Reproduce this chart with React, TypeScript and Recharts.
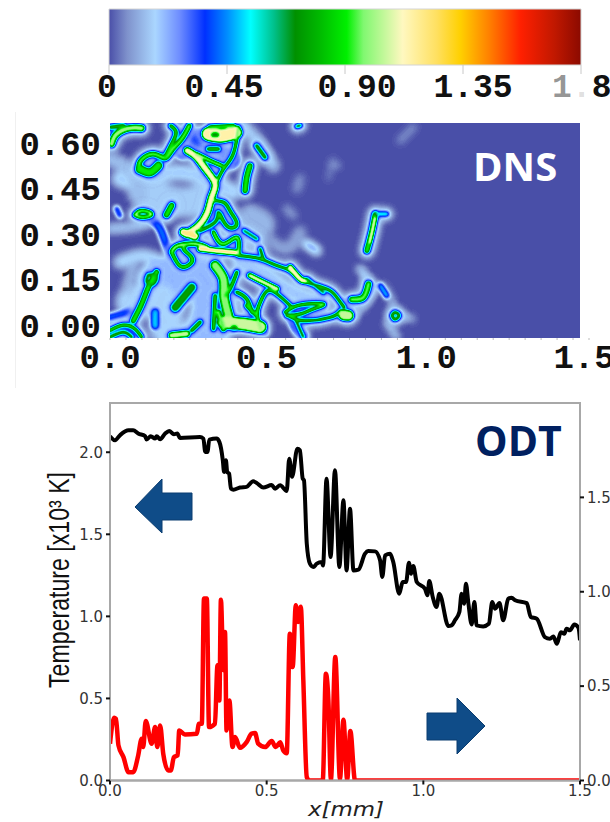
import { ComposedChart, Line, LineChart, ReferenceArea, XAxis, YAxis } from "recharts";

type Pt = [number, number];
type Strand = { pts: Pt[]; level: number; width: number };

// colour scale (value, colour) at the top
const scaleValues = [0, 0.07, 0.176, 0.27, 0.366, 0.45, 0.54, 0.63, 0.71, 0.8, 0.907, 0.97, 1.12, 1.25, 1.34, 1.45, 1.57, 1.7, 1.8];
const scaleColors = [
  "#4a4fa8", "#7f92cc", "#aad6ff", "#6d8cff", "#0030ff", "#008cff", "#00ffff", "#00c08a", "#009000", "#00b800",
  "#00f000", "#80f870", "#fff8c0", "#ffe060", "#ffd000", "#ff8000", "#ff2000", "#c01800", "#8b0a00",
];
const scaleTicks = [0, 0.45, 0.9, 1.35, 1.8];
const scaleLabels = ["0", "0.45", "0.90", "1.35", "1.8"];

// DNS axes
const dnsXTicks = [
  0, 0.05, 0.1, 0.15, 0.2, 0.25, 0.3, 0.35, 0.4, 0.45, 0.5, 0.55, 0.6, 0.65, 0.7, 0.75, 0.8, 0.85, 0.9, 0.95, 1, 1.05,
  1.1, 1.15, 1.2, 1.25, 1.3, 1.35, 1.4, 1.45, 1.5,
];
const dnsXLabels: Record<string, string> = { "0": "0.0", "0.5": "0.5", "1": "1.0", "1.5": "1.5" };
const dnsYTicks = [0, 0.15, 0.3, 0.45, 0.6];

// DNS field: faint wisps, value about 0.06 to 0.22
const wisp01: Pt[] = [[0.031, 0.484], [0.104, 0.473], [0.198, 0.505], [0.303, 0.484], [0.386, 0.44]];
const wisp02: Pt[] = [[0.104, 0.44], [0.219, 0.407], [0.282, 0.418]];
const wisp03: Pt[] = [[0, 0.549], [0.073, 0.505], [0.094, 0.429]];
const wisp04: Pt[] = [[0, 0.319], [0.094, 0.33], [0.177, 0.363]];
const wisp05: Pt[] = [[0.031, 0.209], [0.104, 0.231], [0.177, 0.209], [0.303, 0.209]];
const wisp06: Pt[] = [[0.157, 0.143], [0.261, 0.165], [0.324, 0.088], [0.303, -0.022]];
const wisp07: Pt[] = [[0.073, 0.077], [0.157, 0.077], [0.177, -0.011]];
const wisp08: Pt[] = [[0.407, 0.209], [0.491, 0.165], [0.553, 0.121], [0.647, 0.077]];
const wisp09: Pt[] = [[0.438, 0.363], [0.48, 0.33], [0.418, 0.275]];
const wisp10: Pt[] = [[0.491, 0.286], [0.553, 0.253], [0.595, 0.308]];
const wisp11: Pt[] = [[0.616, 0.269], [0.647, 0.247]];
const wisp12: Pt[] = [[0.553, 0.385], [0.574, 0.363]];
const wisp13: Pt[] = [[0.595, 0.484], [0.585, 0.451]];
const wisp14: Pt[] = [[0.689, 0.533], [0.715, 0.527]];
const wisp15: Pt[] = [[0.699, 0.549], [0.683, 0.484]];
const wisp16: Pt[] = [[0.95, 0.654], [0.908, 0.61]];
const wisp17: Pt[] = [[0.783, 0.187], [0.804, 0.154], [0.814, 0.11]];
const wisp18: Pt[] = [[0.866, 0.011], [0.898, -0.038]];
const wisp19: Pt[] = [[0.877, 0.044], [0.945, 0.022]];
const wisp20: Pt[] = [[0.762, 0.033], [0.804, 0.077], [0.846, 0.132], [0.887, 0.066]];
const wisp21: Pt[] = [[0.418, 0.659], [0.465, 0.604], [0.511, 0.527]];
const wisp22: Pt[] = [[0.073, 0.198], [0.052, 0.121]];
const blue01: Pt[] = [[0.021, 0.385], [0.031, 0.363]];
const blue02: Pt[] = [[0.23, 0.582], [0.282, 0.615], [0.324, 0.577], [0.376, 0.549]];
const blue03: Pt[] = [[0.125, 0.357], [0.157, 0.319], [0.177, 0.264], [0.193, 0.231]];
const blue04: Pt[] = [[0, 0.027], [0.063, 0.044]];
const blue05: Pt[] = [[0.141, 0.044], [0.141, 0]];
const blue06: Pt[] = [[0.48, 0.011], [0.485, -0.022]];
const blue07: Pt[] = [[0.846, 0.132], [0.866, 0.099]];
const blue08: Pt[] = [[0.569, 0.022], [0.585, -0.011], [0.605, -0.033]];

const washes: Strand[] = [
  { pts: wisp01, level: 0.19, width: 16 },
  { pts: wisp02, level: 0.16, width: 30 },
  { pts: wisp03, level: 0.14, width: 14 },
  { pts: wisp04, level: 0.17, width: 9 },
  { pts: wisp05, level: 0.19, width: 12 },
  { pts: wisp06, level: 0.22, width: 46 },
  { pts: wisp07, level: 0.18, width: 34 },
  { pts: wisp08, level: 0.2, width: 18 },
  { pts: wisp09, level: 0.13, width: 22 },
  { pts: wisp10, level: 0.1, width: 12 },
  { pts: wisp11, level: 0.3, width: 8 },
  { pts: wisp12, level: 0.1, width: 7 },
  { pts: wisp13, level: 0.08, width: 9 },
  { pts: wisp14, level: 0.14, width: 4 },
  { pts: wisp15, level: 0.08, width: 4 },
  { pts: wisp16, level: 0.08, width: 7 },
  { pts: wisp17, level: 0.26, width: 6 },
  { pts: wisp18, level: 0.24, width: 5 },
  { pts: wisp19, level: 0.22, width: 5 },
  { pts: wisp20, level: 0.2, width: 5 },
  { pts: wisp21, level: 0.17, width: 12 },
  { pts: wisp22, level: 0.13, width: 10 },
];

const blues: Strand[] = [
  { pts: blue01, level: 0.42, width: 6 },
  { pts: blue02, level: 0.4, width: 22 },
  { pts: blue03, level: 0.42, width: 9 },
  { pts: blue04, level: 0.42, width: 8 },
  { pts: blue05, level: 0.5, width: 8 },
  { pts: blue06, level: 0.42, width: 8 },
  { pts: blue07, level: 0.5, width: 6 },
  { pts: blue08, level: 0.55, width: 10 },
];

// DNS field: hot filaments
const fil01: Pt[] = [[0.005, 0.599], [0.021, 0.632], [0.063, 0.651], [0.099, 0.651]];
const fil02: Pt[] = [[0.002, 0.654], [0.042, 0.66]];
const fil03: Pt[] = [[0.089, 0.511], [0.096, 0.544], [0.136, 0.566], [0.172, 0.552], [0.193, 0.577], [0.224, 0.615], [0.248, 0.659]];
const fil04: Pt[] = [[0.094, 0.516], [0.125, 0.505], [0.151, 0.527]];
const fil05: Pt[] = [[0.19, 0.659], [0.207, 0.637], [0.193, 0.599], [0.172, 0.555]];
const fil06: Pt[] = [[0.308, 0.632], [0.35, 0.626], [0.392, 0.637]];
const fil07: Pt[] = [[0.313, 0.654], [0.386, 0.659]];
const fil08: Pt[] = [[0.402, 0.654], [0.395, 0.604], [0.381, 0.555], [0.355, 0.516], [0.336, 0.478]];
const fil09: Pt[] = [[0.308, 0.582], [0.339, 0.582]];
const fil10: Pt[] = [[0.242, 0.577], [0.271, 0.555], [0.303, 0.511], [0.329, 0.467], [0.318, 0.423], [0.305, 0.374], [0.277, 0.33], [0.238, 0.302]];
const fil11: Pt[] = [[0.271, 0.566], [0.313, 0.544], [0.35, 0.527]];
const fil12: Pt[] = [[0.329, 0.412], [0.36, 0.404], [0.378, 0.374], [0.397, 0.335], [0.371, 0.324], [0.344, 0.368]];
const fil13: Pt[] = [[0.282, 0.313], [0.329, 0.341], [0.339, 0.374]];
const fil14: Pt[] = [[0.23, 0.308], [0.266, 0.295]];
const fil15: Pt[] = [[0.193, 0.242], [0.214, 0.264], [0.271, 0.269], [0.303, 0.258]];
const fil16: Pt[] = [[0.282, 0.253], [0.334, 0.247], [0.397, 0.24]];
const fil17: Pt[] = [[0.193, 0.242], [0.209, 0.209], [0.23, 0.192], [0.256, 0.209], [0.251, 0.231], [0.23, 0.253], [0.242, 0.269]];
const fil18: Pt[] = [[0.324, 0.308], [0.355, 0.269], [0.397, 0.291], [0.402, 0.236]];
const fil19: Pt[] = [[0.402, 0.231], [0.47, 0.22], [0.522, 0.198], [0.564, 0.181], [0.605, 0.148], [0.678, 0.121], [0.71, 0.093], [0.733, 0.06]];
const fil20: Pt[] = [[0.47, 0.253], [0.48, 0.22]];
const fil21: Pt[] = [[0.564, 0.192], [0.595, 0.154], [0.611, 0.148]];
const fil22: Pt[] = [[0.616, 0.154], [0.668, 0.11]];
const fil23: Pt[] = [[0.438, 0.165], [0.47, 0.148], [0.501, 0.132], [0.522, 0.121]];
const fil24: Pt[] = [[0.329, 0.198], [0.355, 0.154], [0.357, 0.099], [0.371, 0.033]];
const fil25: Pt[] = [[0.397, 0.176], [0.381, 0.132], [0.363, 0.099]];
const fil26: Pt[] = [[0.355, 0.011], [0.418, 0.005], [0.47, -0.005]];
const fil27: Pt[] = [[0.397, 0.11], [0.428, 0.088], [0.444, 0.044]];
const fil28: Pt[] = [[0.48, 0.099], [0.461, 0.044], [0.472, -0.011]];
const fil29: Pt[] = [[0.48, 0.099], [0.506, 0.115], [0.564, 0.066]];
const fil30: Pt[] = [[0.548, 0.044], [0.595, 0.068], [0.668, 0.071], [0.637, 0.055], [0.595, 0.038], [0.553, 0.033]];
const fil31: Pt[] = [[0.722, 0.049], [0.689, 0.027], [0.605, 0.016], [0.558, 0.033]];
const fil32: Pt[] = [[0.731, 0.035], [0.746, 0.033]];
const fil33: Pt[] = [[0.757, 0.086], [0.793, 0.093], [0.809, 0.137]];
const fil34: Pt[] = [[0.804, 0.247], [0.819, 0.308], [0.83, 0.368]];
const fil35: Pt[] = [[0.83, 0.368], [0.866, 0.368]];
const fil36: Pt[] = [[0.814, 0.275], [0.83, 0.352]];
const fil37: Pt[] = [[0.882, 0.033], [0.892, 0.044], [0.905, 0.033], [0.892, 0.02], [0.882, 0.033]];
const fil38: Pt[] = [[0.42, 0.313], [0.459, 0.286]];
const fil39: Pt[] = [[0.459, 0.593], [0.485, 0.555]];
const fil40: Pt[] = [[0.438, 0.527], [0.428, 0.489], [0.423, 0.445]];
const fil41: Pt[] = [[0.078, 0.365], [0.099, 0.379], [0.13, 0.368], [0.104, 0.357], [0.078, 0.365]];
const fil42: Pt[] = [[0.177, 0.365], [0.193, 0.396]];
const fil43: Pt[] = [[0.146, 0.176], [0.12, 0.126], [0.099, 0.071], [0.073, 0.016]];
const fil44: Pt[] = [[0.12, 0.167], [0.146, 0.165], [0.136, 0.137], [0.115, 0.143], [0.12, 0.167]];
const fil45: Pt[] = [[0.256, 0.126], [0.235, 0.099], [0.204, 0.06]];
const fil46: Pt[] = [[0.282, 0.011], [0.256, -0.016]];
const fil47: Pt[] = [[0, -0.016], [0.042, 0.002], [0.078, -0.011], [0.099, -0.038]];
const fil48: Pt[] = [[0, -0.038], [0.042, -0.022], [0.068, -0.038]];
const fil49: Pt[] = [[0.193, -0.033], [0.24, -0.027]];
const fil50: Pt[] = [[0.585, 0.657], [0.595, 0.66]];
const fil51: Pt[] = [[0.329, 0.099], [0.324, -0.011]];
const fil52: Pt[] = [[0.575, 0.033], [0.605, -0.038]];
const fil53: Pt[] = [[0.339, 0.044], [0.355, -0.011]];
const fil54: Pt[] = [[0.428, 0.066], [0.459, 0.033]];
const core01: Pt[] = [[0.324, 0.629], [0.334, 0.629]];
const core02: Pt[] = [[0.386, -0.008], [0.391, -0.008]];

const filaments: Strand[] = [
  { pts: fil01, level: 1.0, width: 6 },
  { pts: fil02, level: 0.8, width: 4 },
  { pts: fil03, level: 0.95, width: 4.5 },
  { pts: fil04, level: 0.9, width: 8 },
  { pts: fil05, level: 0.9, width: 3.5 },
  { pts: fil06, level: 1.15, width: 13 },
  { pts: fil07, level: 0.9, width: 4 },
  { pts: fil08, level: 0.95, width: 3 },
  { pts: fil09, level: 0.85, width: 4 },
  { pts: fil10, level: 1.12, width: 6.5 },
  { pts: fil11, level: 1.0, width: 3.5 },
  { pts: fil12, level: 0.9, width: 3.5 },
  { pts: fil13, level: 0.85, width: 3.5 },
  { pts: fil14, level: 1.2, width: 7 },
  { pts: fil15, level: 1.0, width: 4 },
  { pts: fil16, level: 1.2, width: 5 },
  { pts: fil17, level: 0.95, width: 3.5 },
  { pts: fil18, level: 1.0, width: 3.5 },
  { pts: fil19, level: 0.9, width: 3 },
  { pts: fil20, level: 0.85, width: 3 },
  { pts: fil21, level: 1.15, width: 5 },
  { pts: fil22, level: 0.75, width: 3 },
  { pts: fil23, level: 1.1, width: 4.5 },
  { pts: fil24, level: 0.98, width: 9 },
  { pts: fil25, level: 0.9, width: 3.5 },
  { pts: fil26, level: 1.06, width: 12 },
  { pts: fil27, level: 0.9, width: 3.5 },
  { pts: fil28, level: 1.0, width: 3 },
  { pts: fil29, level: 0.9, width: 3 },
  { pts: fil30, level: 0.95, width: 3 },
  { pts: fil31, level: 0.9, width: 3 },
  { pts: fil32, level: 1.05, width: 10 },
  { pts: fil33, level: 0.95, width: 5.5 },
  { pts: fil34, level: 0.9, width: 5 },
  { pts: fil35, level: 0.6, width: 2.5 },
  { pts: fil36, level: 1.15, width: 2.5 },
  { pts: fil37, level: 0.9, width: 2.5 },
  { pts: fil38, level: 0.75, width: 3 },
  { pts: fil39, level: 0.8, width: 4 },
  { pts: fil40, level: 0.9, width: 5.5 },
  { pts: fil41, level: 1.0, width: 3.5 },
  { pts: fil42, level: 0.9, width: 5.5 },
  { pts: fil43, level: 0.9, width: 5 },
  { pts: fil44, level: 0.8, width: 3 },
  { pts: fil45, level: 0.75, width: 8 },
  { pts: fil46, level: 0.85, width: 4 },
  { pts: fil47, level: 0.95, width: 3 },
  { pts: fil48, level: 0.85, width: 3 },
  { pts: fil49, level: 1.05, width: 6 },
  { pts: fil50, level: 0.8, width: 3 },
  { pts: fil51, level: 0.9, width: 3.5 },
  { pts: fil52, level: 0.85, width: 2.5 },
  { pts: fil53, level: 0.95, width: 5 },
  { pts: fil54, level: 0.9, width: 4 },
  { pts: core01, level: 0.72, width: 5 },
  { pts: core02, level: 0.72, width: 5 },
];

// ODT panel
const odtXTicks = [0, 0.5, 1, 1.5];
const tempTicks = [0, 0.5, 1, 1.5, 2];
const rightTicks = [0, 0.5, 1, 1.5];

// black curve, left axis
const temperature: Pt[] = [
  [0, 2.098], [0.016, 2.073], [0.032, 2.104], [0.059, 2.134], [0.074, 2.134], [0.09, 2.114], [0.112, 2.098], [0.117, 2.077],
  [0.13, 2.098], [0.144, 2.083], [0.149, 2.098], [0.16, 2.079], [0.176, 2.114], [0.189, 2.13], [0.204, 2.11], [0.215, 2.114],
  [0.223, 2.087], [0.287, 2.093], [0.298, 2.083], [0.304, 2.002], [0.311, 2.002], [0.317, 2.077], [0.34, 2.083], [0.349, 2.063],
  [0.36, 1.951], [0.364, 1.88], [0.37, 1.951], [0.374, 1.88], [0.38, 1.87], [0.386, 1.778], [0.394, 1.772], [0.415, 1.785],
  [0.436, 1.789], [0.457, 1.823], [0.468, 1.813], [0.489, 1.785], [0.516, 1.8], [0.527, 1.778], [0.543, 1.799], [0.564, 1.764],
  [0.572, 1.961], [0.581, 1.85], [0.598, 2.022], [0.606, 2.012], [0.615, 1.84], [0.619, 1.83], [0.628, 1.443], [0.638, 1.321],
  [0.649, 1.301], [0.66, 1.321], [0.676, 1.331], [0.68, 1.31], [0.691, 1.839], [0.704, 1.362], [0.718, 1.89], [0.732, 1.301],
  [0.745, 1.707], [0.755, 1.28], [0.766, 1.656], [0.777, 1.28], [0.793, 1.285], [0.814, 1.382], [0.824, 1.398], [0.846, 1.396],
  [0.862, 1.341], [0.869, 1.24], [0.878, 1.372], [0.894, 1.382], [0.904, 1.331], [0.923, 1.138], [0.934, 1.209], [0.945, 1.209],
  [0.954, 1.327], [0.961, 1.26], [0.968, 1.307], [0.979, 1.209], [1.005, 1.169], [1.013, 1.128], [1.019, 1.215], [1.03, 1.118],
  [1.042, 1.057], [1.051, 1.138], [1.08, 0.941], [1.09, 0.945], [1.101, 0.976], [1.115, 1.026], [1.122, 1.138], [1.13, 1.077],
  [1.136, 1.199], [1.144, 1.077], [1.154, 0.951], [1.163, 1.087], [1.17, 0.945], [1.191, 0.939], [1.209, 0.955], [1.22, 1.087],
  [1.229, 1.047], [1.243, 1.081], [1.255, 0.976], [1.271, 1.108], [1.282, 1.114], [1.293, 1.098], [1.33, 1.081], [1.343, 0.996],
  [1.362, 0.986], [1.388, 0.874], [1.404, 0.864], [1.415, 0.878], [1.426, 0.833], [1.439, 0.904], [1.45, 0.894], [1.457, 0.925],
  [1.468, 0.915], [1.482, 0.951], [1.495, 0.931], [1.5, 0.854],
];

// red curve, right axis
const heatRelease: Pt[] = [
  [0, 0.195], [0.013, 0.332], [0.019, 0.327], [0.027, 0.186], [0.043, 0.124], [0.059, 0.044], [0.074, 0.044], [0.09, 0.133],
  [0.101, 0.221], [0.106, 0.177], [0.114, 0.315], [0.133, 0.195], [0.144, 0.283], [0.151, 0.177], [0.16, 0.292], [0.17, 0.141],
  [0.186, 0.053], [0.194, 0.053], [0.204, 0.124], [0.216, 0.133], [0.221, 0.265], [0.239, 0.244], [0.277, 0.248], [0.284, 0.301],
  [0.293, 0.301], [0.3, 0.964], [0.309, 0.964], [0.316, 0.283], [0.335, 0.301], [0.343, 0.61], [0.349, 0.424], [0.354, 0.958],
  [0.362, 0.584], [0.367, 0.787], [0.372, 0.265], [0.381, 0.424], [0.391, 0.177], [0.399, 0.23], [0.415, 0.173], [0.436, 0.203],
  [0.452, 0.248], [0.463, 0.251], [0.473, 0.195], [0.495, 0.177], [0.516, 0.209], [0.529, 0.177], [0.543, 0.203], [0.553, 0.159],
  [0.564, 0.145], [0.574, 0.778], [0.583, 0.601], [0.593, 0.928], [0.6, 0.84], [0.609, 0.92], [0.617, 0.531], [0.628, 0.018],
  [0.636, 0], [0.679, 0], [0.689, 0.566], [0.697, 0.424], [0.705, 0.004], [0.719, 0.654], [0.734, 0.009], [0.745, 0.322],
  [0.757, 0.004], [0.767, 0.262], [0.782, 0], [1.5, 0],
];

const rows = (pts: Pt[]) => pts.map(([x, y]) => ({ x, y }));

const hexAt = (hex: string, i: number) => parseInt(hex.slice(1 + i * 2, 3 + i * 2), 16) / 255;

// colour scale sampled every 0.025 for the filter lookup
function scaleTable(channel: number) {
  const out: string[] = [];
  for (let i = 0; i <= 72; i++) {
    const v = i * 0.025;
    let k = 0;
    while (k < scaleValues.length - 2 && v > scaleValues[k + 1]) k++;
    const t = (v - scaleValues[k]) / (scaleValues[k + 1] - scaleValues[k]);
    const c = hexAt(scaleColors[k], channel) * (1 - t) + hexAt(scaleColors[k + 1], channel) * t;
    out.push(c.toFixed(3));
  }
  return out.join(" ");
}

const gray = (level: number) => {
  const g = Math.round((level / 1.8) * 255);
  return `rgb(${g},${g},${g})`;
};

const monoBold = { fontFamily: "'Liberation Mono', monospace", fontWeight: 700, fontSize: 34, fill: "#111" };
const plotTick = { fontFamily: "'DejaVu Sans', sans-serif", fontSize: 15, fill: "#333" };

function ScaleTick({ x, y, index }: any) {
  if (index === 4) {
    return (
      <text x={552} y={y + 12} dominantBaseline="central" {...monoBold} fontSize={33}>
        <tspan fillOpacity={0.45}>1</tspan>
        <tspan fillOpacity={0.15}>.</tspan>
        <tspan>8</tspan>
      </text>
    );
  }
  const shift = [-2, -3, 12, 10][index];
  return (
    <text x={x + shift} y={y + 12} textAnchor="middle" dominantBaseline="central" {...monoBold} fontSize={33}>
      {scaleLabels[index]}
    </text>
  );
}

function DnsXTick({ x, y, payload }: any) {
  const label = dnsXLabels[String(payload.value)];
  if (!label) return null;
  const shift = label === "0.0" ? 0 : label === "1.5" ? -5 : -3;
  return (
    <text x={x + shift} y={y + 17} textAnchor="middle" dominantBaseline="central" {...monoBold}>
      {label}
    </text>
  );
}

function DnsYTick({ y, payload }: any) {
  return (
    <text x={101} y={y + 2} textAnchor="end" dominantBaseline="central" {...monoBold}>
      {payload.value.toFixed(2)}
    </text>
  );
}

function TempLabel() {
  return (
    <text
      transform="translate(69,185) rotate(-90)"
      textAnchor="middle"
      textLength={216}
      lengthAdjust="spacingAndGlyphs"
      fontFamily="'Liberation Sans', Arial, sans-serif"
      fontSize={29}
      fill="#111"
    >
      Temperature [x10³ K]
    </text>
  );
}

function MmLabel() {
  return (
    <text x={346} y={421} textAnchor="middle" textLength={76} lengthAdjust="spacingAndGlyphs" fontFamily="'DejaVu Sans', sans-serif" fontStyle="italic" fontSize={19} fill="#222">
      x[mm]
    </text>
  );
}

// one stack of strands in data units, blurred as a whole
function FieldLayer({ strands, extra, level, blur }: { strands: Strand[]; extra: number; level?: number; blur: number }) {
  return (
    <div style={{ position: "absolute", left: 0, top: 0, filter: `blur(${blur}px)` }}>
      <LineChart width={495.3} height={231} margin={{ top: 8, right: 8, bottom: 8, left: 8 }}>
        <XAxis hide type="number" dataKey="x" domain={[0, 1.5]} />
        <YAxis hide type="number" domain={[-0.041, 0.668]} />
        {strands.map((s, i) => (
          <Line
            key={i}
            type="natural"
            data={rows(s.pts)}
            dataKey="y"
            dot={false}
            stroke={gray(level ?? s.level)}
            strokeWidth={s.width + extra}
            strokeLinecap="round"
            strokeLinejoin="round"
            isAnimationActive={false}
          />
        ))}
      </LineChart>
    </div>
  );
}

export default function App() {
  return (
    <div style={{ position: "absolute", left: 0, top: 0, width: 610, height: 822, overflow: "hidden", background: "#fff" }}>
      <svg width={0} height={0} style={{ position: "absolute" }}>
        <defs>
          <filter id="dnsField" x="0" y="0" width="100%" height="100%" colorInterpolationFilters="sRGB">
            <feGaussianBlur stdDeviation={1.1} />
            <feComponentTransfer>
              <feFuncR type="table" tableValues={scaleTable(0)} />
              <feFuncG type="table" tableValues={scaleTable(1)} />
              <feFuncB type="table" tableValues={scaleTable(2)} />
            </feComponentTransfer>
          </filter>
        </defs>
      </svg>

      {/* colour bar */}
      <div style={{ position: "absolute", left: 0, top: 0 }}>
        <ComposedChart width={610} height={110} margin={{ top: 9, right: 29, bottom: 0, left: 109 }}>
          <defs>
            <linearGradient id="scaleFill" x1="0" y1="0" x2="1" y2="0">
              {scaleValues.map((v, i) => (
                <stop key={v} offset={v / 1.8} stopColor={scaleColors[i]} />
              ))}
            </linearGradient>
          </defs>
          <XAxis
            type="number"
            dataKey="x"
            domain={[0, 1.8]}
            ticks={scaleTicks}
            interval={0}
            height={45}
            axisLine={false}
            tickSize={9}
            tickLine={{ stroke: "#c8c8c8", strokeWidth: 1 }}
            tick={<ScaleTick />}
          />
          <YAxis hide domain={[0, 1]} />
          <ReferenceArea x1={0} x2={1.8} y1={0} y2={1} fill="url(#scaleFill)" fillOpacity={1} stroke="#d4d4d4" strokeWidth={1} />
          <Line data={scaleTicks.map((x) => ({ x, y: 0 }))} dataKey="y" stroke="none" dot={false} isAnimationActive={false} />
        </ComposedChart>
      </div>

      {/* DNS field, filtered through the colour scale */}
      <div style={{ position: "absolute", left: 110, top: 123, width: 469.5, height: 215, overflow: "hidden" }}>
        <div style={{ position: "absolute", left: -8, top: -8, filter: "url(#dnsField)", background: "#000", width: 495.3, height: 231 }}>
          <FieldLayer strands={washes} extra={0} blur={3.5} />
          <FieldLayer strands={blues} extra={0} blur={1.8} />
          <FieldLayer strands={filaments} extra={10} level={0.2} blur={3} />
          <FieldLayer strands={filaments} extra={3.5} level={0.42} blur={1.4} />
          <FieldLayer strands={filaments} extra={0} blur={0.5} />
        </div>
      </div>

      {/* DNS axes */}
      <div style={{ position: "absolute", left: 0, top: 110 }}>
        <ComposedChart width={610} height={270} margin={{ top: 13, right: 21, bottom: 0, left: 0 }}>
          <XAxis
            type="number"
            dataKey="x"
            domain={[0, 1.5]}
            ticks={dnsXTicks}
            interval={0}
            height={42}
            axisLine={false}
            tickSize={2}
            tickLine={{ stroke: "#bbb", strokeWidth: 1 }}
            tick={<DnsXTick />}
          />
          <YAxis type="number" width={110} domain={[-0.041, 0.668]} ticks={dnsYTicks} interval={0} axisLine={false} tickLine={false} tick={<DnsYTick />} />
          <Line data={dnsYTicks.map((y) => ({ x: 0, y }))} dataKey="y" stroke="none" dot={false} isAnimationActive={false} />
        </ComposedChart>
      </div>

      <div style={{ position: "absolute", left: 15, top: 112, width: 0, height: 276, borderLeft: "1px solid #f0f0f0" }} />
      <div style={{ position: "absolute", left: 473, top: 139, fontFamily: "'Open Sans', sans-serif", fontWeight: 700, fontSize: 40, lineHeight: "54px", color: "#fff" }}>
        DNS
      </div>

      {/* ODT panel */}
      <div style={{ position: "absolute", left: 0, top: 395 }}>
        <ComposedChart width={610} height={427} margin={{ top: 8, right: 0, bottom: 0, left: 0 }}>
          <XAxis
            type="number"
            dataKey="x"
            domain={[0, 1.5]}
            ticks={odtXTicks}
            interval={0}
            height={41.5}
            allowDataOverflow
            tickFormatter={(v: number) => v.toFixed(1)}
            stroke="#a8a8a8"
            strokeWidth={2}
            tickSize={4}
            tickMargin={1}
            tickLine={{ stroke: "#111", strokeWidth: 2 }}
            tick={plotTick}
            label={<MmLabel />}
          />
          <YAxis
            yAxisId="left"
            type="number"
            width={110}
            domain={[0, 2.3]}
            ticks={tempTicks}
            interval={0}
            allowDataOverflow
            tickFormatter={(v: number) => v.toFixed(1)}
            stroke="#a8a8a8"
            strokeWidth={2}
            tickSize={4}
            tickMargin={3}
            tickLine={{ stroke: "#111", strokeWidth: 2 }}
            tick={plotTick}
            label={<TempLabel />}
          />
          <YAxis
            yAxisId="right"
            orientation="right"
            type="number"
            width={30}
            domain={[0, 2]}
            ticks={rightTicks}
            interval={0}
            allowDataOverflow
            tickFormatter={(v: number) => v.toFixed(1)}
            stroke="#a8a8a8"
            strokeWidth={2}
            tickSize={4}
            tickMargin={3}
            tickLine={{ stroke: "#111", strokeWidth: 2 }}
            tick={{ ...plotTick, textAnchor: "start" }}
          />
          <ReferenceArea yAxisId="left" x1={0} x2={1.5} y1={0} y2={2.3} fill="none" stroke="#a8a8a8" strokeWidth={2} />
          <Line yAxisId="left" type="monotone" data={rows(temperature)} dataKey="y" dot={false} stroke="#000" strokeWidth={4} strokeLinejoin="round" isAnimationActive={false} />
          <Line yAxisId="right" type="monotone" data={rows(heatRelease)} dataKey="y" dot={false} stroke="#ff0000" strokeWidth={4.5} strokeLinejoin="round" isAnimationActive={false} />
        </ComposedChart>
      </div>

      {/* annotations */}
      <svg width={610} height={822} style={{ position: "absolute", left: 0, top: 0, pointerEvents: "none" }}>
        <polygon points="135,507 162,479 162,493 192,493 192,520 162,520 162,533" fill="#0f4c88" stroke="#0b3d70" strokeWidth={1} />
        <polygon points="427,713 457,713 457,698 485,726 457,754 457,740 427,740" fill="#0f4c88" stroke="#0b3d70" strokeWidth={1} />
      </svg>
      <div style={{ position: "absolute", left: 475, top: 412, fontFamily: "'Open Sans', sans-serif", fontWeight: 700, fontSize: 41, lineHeight: "56px", color: "#002060" }}>
        ODT
      </div>
    </div>
  );
}
